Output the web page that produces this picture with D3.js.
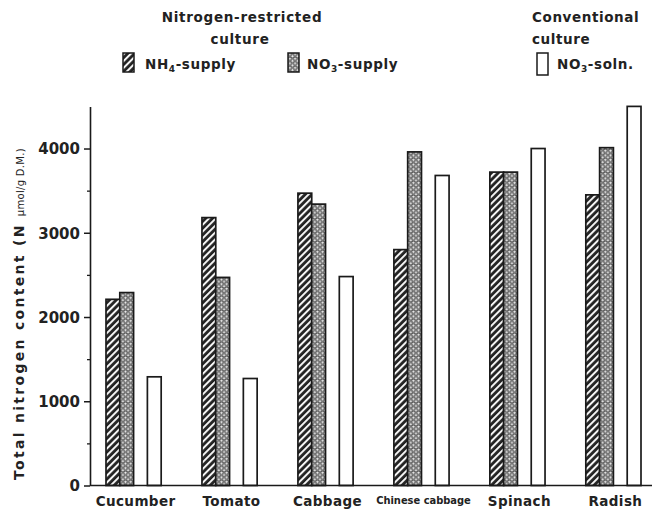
<!DOCTYPE html>
<html>
<head>
<meta charset="utf-8">
<script src="https://cdn.jsdelivr.net/npm/d3@7"></script>
<style>
  html, body { margin: 0; padding: 0; background: #fff; }
  svg text { fill: #222; font-family: "DejaVu Sans", sans-serif; font-weight: bold; }
</style>
</head>
<body>
<svg id="chart" width="658" height="510"></svg>
<script>
// Total nitrogen content per crop (N µmol / g dry matter)
const crops = ["Cucumber", "Tomato", "Cabbage", "Chinese cabbage", "Spinach", "Radish"];
const nh4Supply = [2210, 3180, 3470, 2800, 3720, 3450];
const no3Supply = [2290, 2470, 3340, 3960, 3720, 4010];
const no3Soln   = [1290, 1270, 2480, 3680, 4000, 4500];
const majorTicks = [0, 1000, 2000, 3000, 4000];
const minorTicks = [500, 1500, 2500, 3500];

const series = [
  { key: "nh4", values: nh4Supply, fill: "url(#hatch)" },
  { key: "no3", values: no3Supply, fill: "url(#dots)" },
  { key: "soln", values: no3Soln, fill: "#fff" }
];

const svg = d3.select("#chart");
const ink = "#1a1a1a";

// fill patterns
const defs = svg.append("defs");
const hatch = defs.append("pattern")
  .attr("id", "hatch").attr("patternUnits", "userSpaceOnUse")
  .attr("width", 4.8).attr("height", 4.8)
  .attr("patternTransform", "rotate(45)");
hatch.append("rect").attr("width", 4.8).attr("height", 4.8).attr("fill", "#222");
hatch.append("rect").attr("x", 0).attr("width", 2).attr("height", 4.8).attr("fill", "#f4f4f4");

const dots = defs.append("pattern")
  .attr("id", "dots").attr("patternUnits", "userSpaceOnUse")
  .attr("width", 5.2).attr("height", 4.6);
dots.append("rect").attr("width", 5.2).attr("height", 4.6).attr("fill", "#8a8a8a");
[[1.3, 1.15], [3.9, 3.45], [-1.3, 3.45], [6.5, 1.15]].forEach(([cx, cy]) => {
  dots.append("circle").attr("cx", cx).attr("cy", cy).attr("r", 1.45)
    .attr("fill", "#ececec").attr("stroke", "#333").attr("stroke-width", 0.6);
});

// scales
const y = d3.scaleLinear().domain([0, 4500]).range([485.5, 106.4]);
const x = d3.scaleBand().domain(crops).range([106, 641]).paddingInner(0.425).paddingOuter(0);
const slot = d3.scaleBand().domain(["nh4", "no3", "gap", "soln"]).range([0, x.bandwidth()]);
const axisX = 90;

// bars
const groups = svg.append("g").selectAll("g")
  .data(crops).join("g")
  .attr("transform", d => `translate(${x(d)},0)`);

series.forEach(s => {
  groups.append("rect")
    .attr("x", slot(s.key))
    .attr("width", slot.bandwidth())
    .attr("y", (d, i) => y(s.values[i]))
    .attr("height", (d, i) => y(0) - y(s.values[i]))
    .attr("fill", s.fill)
    .attr("stroke", ink)
    .attr("stroke-width", 1.7);
});

// y axis
const yAxis = svg.append("g")
  .attr("transform", `translate(${axisX},0)`)
  .call(d3.axisLeft(y).tickValues(majorTicks).tickSize(6).tickSizeOuter(0).tickPadding(4).tickFormat(d3.format("d")));
yAxis.selectAll("text")
  .style("font-size", "15px").style("font-family", "DejaVu Sans").attr("fill", "#222").attr("dy", "0.36em");
yAxis.select(".domain").attr("stroke", ink).attr("stroke-width", 1.6);
yAxis.selectAll(".tick line").attr("stroke", ink).attr("stroke-width", 1.5);

const yMinor = svg.append("g")
  .attr("transform", `translate(${axisX},0)`)
  .call(d3.axisLeft(y).tickValues(minorTicks).tickSize(3).tickSizeOuter(0).tickFormat(""));
yMinor.select(".domain").remove();
yMinor.selectAll(".tick line").attr("stroke", ink).attr("stroke-width", 1.3);

// baseline
svg.append("line")
  .attr("x1", axisX).attr("x2", 652)
  .attr("y1", y(0)).attr("y2", y(0))
  .attr("stroke", ink).attr("stroke-width", 1.7);

// x labels
const xAxis = svg.append("g")
  .attr("transform", `translate(2,${y(0)})`)
  .call(d3.axisBottom(x).tickSize(0).tickPadding(11));
xAxis.select(".domain").remove();
xAxis.selectAll("text")
  .attr("fill", "#222")
  .style("font-family", d => d === "Chinese cabbage" ? "DejaVu Sans Condensed" : "DejaVu Sans")
  .style("font-size", d => d === "Chinese cabbage" ? "11px" : "13.5px")
  .style("letter-spacing", d => d === "Chinese cabbage" ? "0px" : "0.4px")
  .style("font-weight", "bold");

// y axis title
const yTitle = svg.append("text")
  .attr("transform", `translate(24,480) rotate(-90)`)
  .attr("text-anchor", "start")
  .style("font-size", "14px")
  .style("letter-spacing", "2.3px");
yTitle.append("tspan").text("Total nitrogen content (N ");
yTitle.append("tspan").style("font-size", "10px").style("font-weight", "normal")
  .style("letter-spacing", "0.3px").text("\u03bcmol/g D.M.)");

// legend
const legend = svg.append("g");
const legendText = (t, lx, ly, size) => legend.append("text")
  .attr("x", lx).attr("y", ly).style("font-size", size + "px").style("letter-spacing", "0.6px").text(t);

legend.append("text").attr("x", 242).attr("y", 22).attr("text-anchor", "middle")
  .style("font-size", "13.5px").style("letter-spacing", "0.7px").text("Nitrogen-restricted");
legend.append("text").attr("x", 240).attr("y", 44).attr("text-anchor", "middle")
  .style("font-size", "13.5px").style("letter-spacing", "0.7px").text("culture");
legendText("Conventional", 532, 22, 13.5);
legendText("culture", 532, 44, 13.5);

const swatches = [
  { fill: "url(#hatch)", x: 123, label: ["NH", "4", "-supply"], tx: 145, h: 19 },
  { fill: "url(#dots)", x: 288, label: ["NO", "3", "-supply"], tx: 307, h: 19 },
  { fill: "#fff", x: 537, label: ["NO", "3", "-soln."], tx: 557, h: 22 }
];
swatches.forEach(s => {
  legend.append("rect").attr("x", s.x).attr("y", 53).attr("width", 11).attr("height", s.h)
    .attr("fill", s.fill).attr("stroke", ink).attr("stroke-width", 1.5);
  const t = legend.append("text").attr("x", s.tx).attr("y", 69)
    .style("font-size", "13.5px").style("letter-spacing", "0.6px");
  t.append("tspan").text(s.label[0]);
  t.append("tspan").attr("dy", 3).style("font-size", "9px").text(s.label[1]);
  t.append("tspan").attr("dy", -3).text(s.label[2]);
});
</script>
</body>
</html>
